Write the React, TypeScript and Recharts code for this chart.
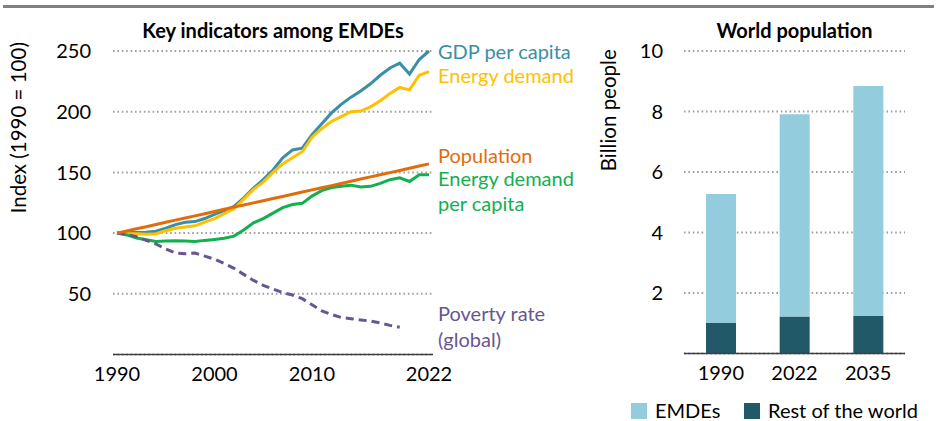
import {
  LineChart,
  Line,
  BarChart,
  Bar,
  XAxis,
  YAxis,
  CartesianGrid,
} from 'recharts';

// Left panel: index values, 1990 = 100
const years = [
  1990, 1991, 1992, 1993, 1994, 1995, 1996, 1997, 1998, 1999, 2000, 2001, 2002, 2003, 2004, 2005, 2006,
  2007, 2008, 2009, 2010, 2011, 2012, 2013, 2014, 2015, 2016, 2017, 2018, 2019, 2020, 2021, 2022,
];
const gdpPerCapita = [
  100, 100.5, 100.5, 100.8, 101.5, 104, 107, 109, 109.5, 112, 115.5, 118.5, 122, 129, 137, 144, 152,
  162, 168.5, 170, 181, 190, 199, 206, 212, 217, 223, 230, 236, 240, 231, 243, 250,
];
const energyDemand = [
  100, 99.5, 99.5, 99, 99.5, 102, 104, 105, 106, 109, 112, 116, 120, 128, 136, 142, 150,
  157, 162, 167, 179, 186, 192, 196, 200, 200.5, 204, 209, 215, 220, 218, 230, 233,
];
const population = [
  100, 101.8, 103.6, 105.3, 107.1, 108.9, 110.7, 112.5, 114.2, 116.0, 117.8, 119.6, 121.4, 123.1, 124.9, 126.7, 128.5,
  130.2, 132.0, 133.8, 135.6, 137.4, 139.1, 140.9, 142.7, 144.5, 146.3, 148.0, 149.8, 151.6, 153.4, 155.2, 157.0,
];
const energyPerCapita = [
  100, 98.5, 96, 94.5, 93, 93.5, 93.8, 93.5, 93, 94, 94.8, 95.7, 97.5, 102.5, 108.5, 112, 116.5,
  121, 123.5, 124.5, 130.5, 135, 137.5, 138.5, 139.5, 138, 138.5, 141, 144, 145.5, 142.5, 148, 148,
];
const povertyRate = [
  100, 99, 97, 94, 91, 87, 83.5, 83, 83.5, 81, 78.5, 75, 71, 66, 61, 57, 54,
  51, 49, 46, 41, 36, 33, 30.5, 29.5, 28.5, 27.5, 26, 24, 22.5, null, null, null,
];
const indexTicks = [50, 100, 150, 200, 250];
const yearTicks = [1990, 2000, 2010, 2022];

// Right panel: billion people
const popYears = ['1990', '2022', '2035'];
const restOfWorld = [1.02, 1.22, 1.24];
const emdes = [4.25, 6.69, 7.6];
const popTicks = [2, 4, 6, 8, 10];

const lineData = years.map((y, i) => ({
  year: y,
  gdp: gdpPerCapita[i],
  energy: energyDemand[i],
  pop: population[i],
  epc: energyPerCapita[i],
  poverty: povertyRate[i],
}));

const barData = popYears.map((y, i) => ({ year: y, row: restOfWorld[i], emdes: emdes[i] }));

const FONT = 'Lato, "Noto Sans", sans-serif';
const tickStyle = { fontSize: 20, fill: '#000', fontFamily: FONT };
const gridProps = { stroke: '#a0a0a0', strokeWidth: 2, strokeDasharray: '1.6 2.8', vertical: false };

const lineLabels = [
  { text: 'GDP per capita', color: '#3a8ea5', top: 39 },
  { text: 'Energy demand', color: '#ffc000', top: 63 },
  { text: 'Population', color: '#e36c0a', top: 143 },
  { text: 'Energy demand', color: '#12b04f', top: 166 },
  { text: 'per capita', color: '#12b04f', top: 191 },
  { text: 'Poverty rate', color: '#67568f', top: 301 },
  { text: '(global)', color: '#67568f', top: 327 },
];

export default function App() {
  return (
    <div
      style={{
        position: 'absolute',
        left: 0,
        top: 0,
        width: 939,
        height: 421,
        background: '#fff',
        fontFamily: FONT,
        overflow: 'hidden',
      }}
    >
      <div style={{ position: 'absolute', left: 3, top: 5, width: 931, height: 3, background: '#808080' }} />

      <div style={{ position: 'absolute', left: 0, top: 0 }}>
        <LineChart width={460} height={421} data={lineData} margin={{ top: 51, right: 27, bottom: 36.5, left: 0 }}>
          <CartesianGrid {...gridProps} />
          <XAxis
            dataKey="year"
            type="number"
            domain={[1990, 2022]}
            ticks={yearTicks}
            interval={0}
            padding={{ left: 4, right: 4 }}
            height={30}
            tick={tickStyle}
            tickSize={0}
            tickMargin={12}
            axisLine={{ stroke: '#404040', strokeWidth: 1.5 }}
          />
          <YAxis
            domain={[0, 250]}
            ticks={indexTicks}
            interval={0}
            width={113}
            tick={tickStyle}
            tickSize={0}
            tickMargin={22}
            axisLine={false}
            label={{
              value: 'Index (1990 = 100)',
              angle: -90,
              position: 'insideLeft',
              dx: 14,
              dy: -75,
              style: { fontSize: 20.5, fill: '#000', fontFamily: FONT, textAnchor: 'middle' },
            }}
          />
          <Line type="linear" dataKey="gdp" stroke="#3a8ea5" strokeWidth={3} dot={false} isAnimationActive={false} />
          <Line type="linear" dataKey="energy" stroke="#ffc000" strokeWidth={3} dot={false} isAnimationActive={false} />
          <Line type="linear" dataKey="epc" stroke="#12b04f" strokeWidth={3} dot={false} isAnimationActive={false} />
          <Line
            type="linear"
            dataKey="poverty"
            stroke="#67568f"
            strokeWidth={3}
            strokeDasharray="8 5"
            dot={false}
            isAnimationActive={false}
          />
          <Line type="linear" dataKey="pop" stroke="#e36c0a" strokeWidth={3} dot={false} isAnimationActive={false} />
        </LineChart>
      </div>

      <div
        style={{
          position: 'absolute',
          left: 103,
          width: 340,
          top: 18,
          textAlign: 'center',
          fontWeight: 700,
          fontSize: 20,
          whiteSpace: 'nowrap',
        }}
      >
        Key indicators among EMDEs
      </div>

      {lineLabels.map((l, i) => (
        <div
          key={i}
          style={{ position: 'absolute', left: 438, top: l.top, color: l.color, fontSize: 20, whiteSpace: 'nowrap' }}
        >
          {l.text}
        </div>
      ))}

      <div style={{ position: 'absolute', left: 580, top: 0 }}>
        <BarChart
          width={359}
          height={421}
          data={barData}
          margin={{ top: 51, right: 34, bottom: 37.5, left: 0 }}
          barSize={30}
        >
          <CartesianGrid {...gridProps} />
          <XAxis
            dataKey="year"
            height={30}
            interval={0}
            tick={tickStyle}
            tickSize={0}
            tickMargin={12}
            axisLine={{ stroke: '#404040', strokeWidth: 1.5 }}
          />
          <YAxis
            domain={[0, 10]}
            ticks={popTicks}
            interval={0}
            width={104}
            tick={tickStyle}
            tickSize={0}
            tickMargin={21}
            axisLine={false}
            label={{
              value: 'Billion people',
              angle: -90,
              position: 'insideLeft',
              dx: 24,
              dy: -92,
              style: { fontSize: 20.5, fill: '#000', fontFamily: FONT, textAnchor: 'middle' },
            }}
          />
          <Bar dataKey="row" stackId="a" fill="#215968" isAnimationActive={false} />
          <Bar dataKey="emdes" stackId="a" fill="#93cddd" isAnimationActive={false} />
        </BarChart>
      </div>

      <div
        style={{
          position: 'absolute',
          left: 684,
          width: 221,
          top: 18,
          textAlign: 'center',
          fontWeight: 700,
          fontSize: 20,
          whiteSpace: 'nowrap',
        }}
      >
        World population
      </div>

      <div style={{ position: 'absolute', left: 631, top: 403, width: 16, height: 16, background: '#93cddd' }} />
      <div style={{ position: 'absolute', left: 655, top: 401, fontSize: 20, lineHeight: '19px' }}>EMDEs</div>
      <div style={{ position: 'absolute', left: 744, top: 403, width: 16, height: 16, background: '#215968' }} />
      <div
        style={{ position: 'absolute', left: 768, top: 401, fontSize: 20, lineHeight: '19px', whiteSpace: 'nowrap' }}
      >
        Rest of the world
      </div>
    </div>
  );
}
